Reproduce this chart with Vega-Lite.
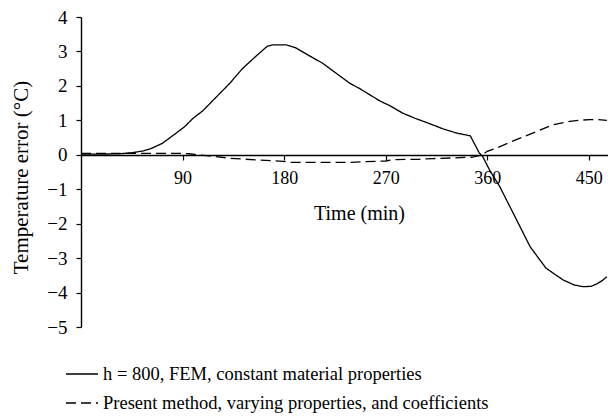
{
  "$schema": "https://vega.github.io/schema/vega-lite/v6.json",
  "width": 527,
  "height": 310,
  "autosize": "none",
  "padding": {"left": 81, "top": 17, "right": 0, "bottom": 92},
  "background": "white",
  "config": {
    "view": {"stroke": null},
    "axis": {
      "domainColor": "black", "tickColor": "black", "labelColor": "black", "titleColor": "black",
      "labelFont": "Liberation Serif", "titleFont": "Liberation Serif",
      "titleFontWeight": "normal", "domainWidth": 1.4, "tickWidth": 1.2, "tickSize": 5, "grid": false
    },
    "legend": {"labelFont": "Liberation Serif", "labelColor": "black"}
  },
  "data": {"values": [
    {"t": 0, "v": 0.02, "s": "h = 800, FEM, constant material properties"},
    {"t": 20, "v": 0.02, "s": "h = 800, FEM, constant material properties"},
    {"t": 35, "v": 0.03, "s": "h = 800, FEM, constant material properties"},
    {"t": 45, "v": 0.06, "s": "h = 800, FEM, constant material properties"},
    {"t": 55, "v": 0.11, "s": "h = 800, FEM, constant material properties"},
    {"t": 62, "v": 0.18, "s": "h = 800, FEM, constant material properties"},
    {"t": 72, "v": 0.33, "s": "h = 800, FEM, constant material properties"},
    {"t": 84, "v": 0.62, "s": "h = 800, FEM, constant material properties"},
    {"t": 92, "v": 0.82, "s": "h = 800, FEM, constant material properties"},
    {"t": 99, "v": 1.05, "s": "h = 800, FEM, constant material properties"},
    {"t": 108, "v": 1.28, "s": "h = 800, FEM, constant material properties"},
    {"t": 120, "v": 1.68, "s": "h = 800, FEM, constant material properties"},
    {"t": 132, "v": 2.08, "s": "h = 800, FEM, constant material properties"},
    {"t": 143, "v": 2.5, "s": "h = 800, FEM, constant material properties"},
    {"t": 155, "v": 2.86, "s": "h = 800, FEM, constant material properties"},
    {"t": 165, "v": 3.15, "s": "h = 800, FEM, constant material properties"},
    {"t": 170, "v": 3.19, "s": "h = 800, FEM, constant material properties"},
    {"t": 182, "v": 3.19, "s": "h = 800, FEM, constant material properties"},
    {"t": 190, "v": 3.11, "s": "h = 800, FEM, constant material properties"},
    {"t": 202, "v": 2.88, "s": "h = 800, FEM, constant material properties"},
    {"t": 214, "v": 2.66, "s": "h = 800, FEM, constant material properties"},
    {"t": 226, "v": 2.37, "s": "h = 800, FEM, constant material properties"},
    {"t": 238, "v": 2.08, "s": "h = 800, FEM, constant material properties"},
    {"t": 247, "v": 1.92, "s": "h = 800, FEM, constant material properties"},
    {"t": 256, "v": 1.74, "s": "h = 800, FEM, constant material properties"},
    {"t": 265, "v": 1.56, "s": "h = 800, FEM, constant material properties"},
    {"t": 274, "v": 1.42, "s": "h = 800, FEM, constant material properties"},
    {"t": 285, "v": 1.21, "s": "h = 800, FEM, constant material properties"},
    {"t": 296, "v": 1.06, "s": "h = 800, FEM, constant material properties"},
    {"t": 306, "v": 0.94, "s": "h = 800, FEM, constant material properties"},
    {"t": 321, "v": 0.75, "s": "h = 800, FEM, constant material properties"},
    {"t": 333, "v": 0.63, "s": "h = 800, FEM, constant material properties"},
    {"t": 345, "v": 0.55, "s": "h = 800, FEM, constant material properties"},
    {"t": 353, "v": 0.05, "s": "h = 800, FEM, constant material properties"},
    {"t": 356, "v": -0.05, "s": "h = 800, FEM, constant material properties"},
    {"t": 362, "v": -0.44, "s": "h = 800, FEM, constant material properties"},
    {"t": 371, "v": -0.92, "s": "h = 800, FEM, constant material properties"},
    {"t": 386, "v": -1.89, "s": "h = 800, FEM, constant material properties"},
    {"t": 398, "v": -2.67, "s": "h = 800, FEM, constant material properties"},
    {"t": 412, "v": -3.29, "s": "h = 800, FEM, constant material properties"},
    {"t": 427, "v": -3.63, "s": "h = 800, FEM, constant material properties"},
    {"t": 437, "v": -3.78, "s": "h = 800, FEM, constant material properties"},
    {"t": 445, "v": -3.83, "s": "h = 800, FEM, constant material properties"},
    {"t": 452, "v": -3.82, "s": "h = 800, FEM, constant material properties"},
    {"t": 457, "v": -3.75, "s": "h = 800, FEM, constant material properties"},
    {"t": 462, "v": -3.65, "s": "h = 800, FEM, constant material properties"},
    {"t": 466, "v": -3.54, "s": "h = 800, FEM, constant material properties"},
    {"t": 0, "v": 0.04, "s": "Present method, varying properties, and coefficients"},
    {"t": 50, "v": 0.04, "s": "Present method, varying properties, and coefficients"},
    {"t": 90, "v": 0.04, "s": "Present method, varying properties, and coefficients"},
    {"t": 96, "v": 0.03, "s": "Present method, varying properties, and coefficients"},
    {"t": 103, "v": 0.0, "s": "Present method, varying properties, and coefficients"},
    {"t": 115, "v": -0.04, "s": "Present method, varying properties, and coefficients"},
    {"t": 132, "v": -0.1, "s": "Present method, varying properties, and coefficients"},
    {"t": 155, "v": -0.15, "s": "Present method, varying properties, and coefficients"},
    {"t": 179, "v": -0.19, "s": "Present method, varying properties, and coefficients"},
    {"t": 186, "v": -0.22, "s": "Present method, varying properties, and coefficients"},
    {"t": 210, "v": -0.22, "s": "Present method, varying properties, and coefficients"},
    {"t": 238, "v": -0.22, "s": "Present method, varying properties, and coefficients"},
    {"t": 250, "v": -0.2, "s": "Present method, varying properties, and coefficients"},
    {"t": 270, "v": -0.18, "s": "Present method, varying properties, and coefficients"},
    {"t": 277, "v": -0.14, "s": "Present method, varying properties, and coefficients"},
    {"t": 300, "v": -0.13, "s": "Present method, varying properties, and coefficients"},
    {"t": 312, "v": -0.11, "s": "Present method, varying properties, and coefficients"},
    {"t": 330, "v": -0.09, "s": "Present method, varying properties, and coefficients"},
    {"t": 347, "v": -0.07, "s": "Present method, varying properties, and coefficients"},
    {"t": 356, "v": 0.0, "s": "Present method, varying properties, and coefficients"},
    {"t": 360, "v": 0.1, "s": "Present method, varying properties, and coefficients"},
    {"t": 368, "v": 0.19, "s": "Present method, varying properties, and coefficients"},
    {"t": 380, "v": 0.36, "s": "Present method, varying properties, and coefficients"},
    {"t": 398, "v": 0.6, "s": "Present method, varying properties, and coefficients"},
    {"t": 418, "v": 0.87, "s": "Present method, varying properties, and coefficients"},
    {"t": 433, "v": 0.97, "s": "Present method, varying properties, and coefficients"},
    {"t": 445, "v": 1.01, "s": "Present method, varying properties, and coefficients"},
    {"t": 451, "v": 1.02, "s": "Present method, varying properties, and coefficients"},
    {"t": 458, "v": 1.02, "s": "Present method, varying properties, and coefficients"},
    {"t": 466, "v": 1.0, "s": "Present method, varying properties, and coefficients"}
  ]},
  "mark": {"type": "line", "color": "black", "strokeWidth": 1.3},
  "encoding": {
    "x": {
      "field": "t", "type": "quantitative",
      "scale": {"domain": [0, 467], "nice": false, "zero": false},
      "axis": {
        "title": "Time (min)", "values": [90, 180, 270, 360, 450], "offset": -172,
        "labelFontSize": 18, "titleFontSize": 20, "labelPadding": 9,
        "titleX": 278, "titleY": 58, "titleBaseline": "middle", "titleAlign": "center"
      }
    },
    "y": {
      "field": "v", "type": "quantitative",
      "scale": {"domain": [-5, 4], "nice": false},
      "axis": {
        "title": "Temperature error (°C)", "values": [-5, -4, -3, -2, -1, 0, 1, 2, 3, 4],
        "labelFontSize": 19, "titleFontSize": 21, "labelPadding": 9,
        "titleX": -60, "titleY": 160, "titleBaseline": "middle", "titleAlign": "center", "titleAngle": -90
      }
    },
    "strokeDash": {
      "field": "s", "type": "nominal",
      "scale": {
        "domain": ["h = 800, FEM, constant material properties", "Present method, varying properties, and coefficients"],
        "range": [[1, 0], [10, 5]]
      },
      "legend": {
        "title": null, "orient": "none", "legendX": -16, "legendY": 340,
        "symbolType": "stroke", "symbolSize": 1024, "symbolStrokeWidth": 1.3, "symbolStrokeColor": "black",
        "labelFontSize": 18.5, "labelOffset": 4, "rowPadding": 2, "padding": 0, "labelLimit": 600
      }
    }
  }
}
